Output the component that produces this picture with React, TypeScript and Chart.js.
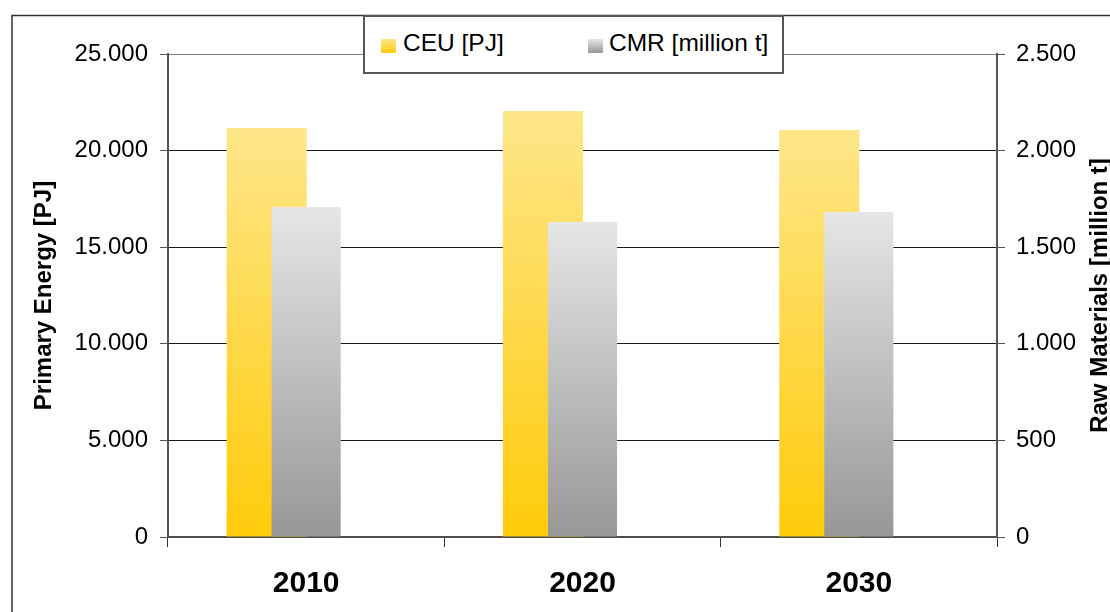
import React, { useEffect, useRef } from 'react';
import { Chart, registerables } from 'chart.js';

Chart.register(...registerables);

// ---- data ----
const CATEGORIES = ['2010', '2020', '2030'];
const SERIES_LABELS = ['CEU [PJ]', 'CMR [million t]'];
const CEU_VALUES = [21170, 22050, 21070];
const CMR_VALUES = [1708, 1630, 1682];
const LEFT_AXIS = { min: 0, max: 25000, step: 5000 };
const RIGHT_AXIS = { min: 0, max: 2500, step: 500 };
const LEFT_TITLE = 'Primary Energy [PJ]';
const RIGHT_TITLE = 'Raw Materials [million t]';

// ---- styles ----
const FONT = "'Liberation Sans', Arial, Helvetica, sans-serif";
const CEU_COLORS = ['#FEE68A', '#FFCB0A'];
const CMR_COLORS = ['#E6E6E6', '#979797'];
const CEU_SHIFT = 0.143; // fraction of a category width (Excel overlap)

const fmt = (v: number) => String(Math.round(v)).replace(/\B(?=(\d{3})+(?!\d))/g, '.');

function gradientFill(axisId: string, colors: string[]) {
  return (ctx: any) => {
    const chart = ctx.chart;
    if (!chart.chartArea || ctx.type !== 'data' || !ctx.parsed) return colors[1];
    const scale = chart.scales[axisId];
    const top = scale.getPixelForValue(ctx.parsed.y);
    const bottom = scale.getPixelForValue(0);
    if (!isFinite(top) || !isFinite(bottom) || top === bottom) return colors[1];
    const g = chart.ctx.createLinearGradient(0, top, 0, bottom);
    g.addColorStop(0, colors[0]);
    g.addColorStop(1, colors[1]);
    return g;
  };
}

const shiftPlugin = {
  id: 'shiftCEU',
  afterDatasetsUpdate(chart: any) {
    const xs = chart.scales.x;
    const catW = (xs.right - xs.left) / CATEGORIES.length;
    const meta = chart.getDatasetMeta(0);
    meta.data.forEach((el: any) => {
      el.x -= catW * CEU_SHIFT;
    });
  },
};

const framePlugin = {
  id: 'frame',
  beforeDraw(chart: any) {
    const c = chart.ctx;
    c.save();
    c.strokeStyle = '#333';
    c.lineWidth = 1.5;
    c.beginPath();
    c.moveTo(12, chart.height + 2);
    c.lineTo(12, 15.5);
    c.lineTo(chart.width + 2, 15.5);
    c.stroke();
    c.restore();
  },
};

const titlePlugin = {
  id: 'axisTitles',
  afterDraw(chart: any) {
    const c = chart.ctx;
    const area = chart.chartArea;
    const cy = (area.top + area.bottom) / 2;
    c.save();
    c.fillStyle = '#000';
    c.font = `bold 24px ${FONT}`;
    c.textAlign = 'center';
    c.textBaseline = 'alphabetic';
    c.save();
    c.translate(51, cy);
    c.rotate(-Math.PI / 2);
    c.fillText(LEFT_TITLE, 0, 0);
    c.restore();
    c.save();
    c.translate(chart.width - 3, cy);
    c.rotate(-Math.PI / 2);
    c.fillText(RIGHT_TITLE, 0, 0);
    c.restore();
    c.restore();
  },
};

export default function App() {
  const ref = useRef<HTMLCanvasElement | null>(null);

  useEffect(() => {
    if (!ref.current) return;
    const chart = new Chart(ref.current, {
      type: 'bar',
      data: {
        labels: CATEGORIES,
        datasets: [
          {
            label: SERIES_LABELS[0],
            data: CEU_VALUES,
            yAxisID: 'y',
            order: 1,
            grouped: false,
            barPercentage: 0.29,
            categoryPercentage: 1,
            borderWidth: 0,
            backgroundColor: gradientFill('y', CEU_COLORS),
          } as any,
          {
            label: SERIES_LABELS[1],
            data: CMR_VALUES,
            yAxisID: 'y1',
            order: 0,
            grouped: false,
            barPercentage: 0.25,
            categoryPercentage: 1,
            borderWidth: 0,
            backgroundColor: gradientFill('y1', CMR_COLORS),
          } as any,
        ],
      },
      options: {
        responsive: false,
        animation: false,
        devicePixelRatio: 1,
        layout: { padding: { top: 54, left: 0, right: 0, bottom: 0 } },
        plugins: { legend: { display: false }, tooltip: { enabled: false } },
        scales: {
          x: {
            position: 'bottom',
            z: 1,
            offset: true,
            afterFit: (s: any) => {
              s.height = 75;
            },
            grid: {
              offset: true,
              drawOnChartArea: false,
              tickLength: 10,
              color: '#333',
              lineWidth: 1,
            },
            border: { display: true, color: '#4f4f4f', width: 2 },
            ticks: {
              padding: 19,
              color: '#000',
              font: { family: FONT, size: 30, weight: 'bold' },
            },
          },
          y: {
            position: 'left',
            min: LEFT_AXIS.min,
            max: LEFT_AXIS.max,
            afterFit: (s: any) => {
              s.width = 168;
            },
            ticks: {
              stepSize: LEFT_AXIS.step,
              padding: 12,
              color: '#000',
              font: { family: FONT, size: 24 },
              callback: (v: any) => fmt(Number(v)),
            },
            grid: {
              color: (ctx: any) => {
                const v = ctx.tick ? ctx.tick.value : null;
                if (v === LEFT_AXIS.min) return 'rgba(0,0,0,0)';
                if (v === LEFT_AXIS.max) return '#808080';
                return '#1a1a1a';
              },
              lineWidth: 1,
              tickLength: 8,
              tickColor: '#555',
            },
            border: { display: true, color: '#555', width: 2 },
          },
          y1: {
            position: 'right',
            min: RIGHT_AXIS.min,
            max: RIGHT_AXIS.max,
            afterFit: (s: any) => {
              s.width = 113;
            },
            ticks: {
              stepSize: RIGHT_AXIS.step,
              padding: 11,
              color: '#000',
              font: { family: FONT, size: 24 },
              callback: (v: any) => fmt(Number(v)),
            },
            grid: {
              drawOnChartArea: false,
              tickLength: 8,
              tickColor: '#555',
              color: '#555',
            },
            border: { display: true, color: '#555', width: 2 },
          },
        },
      } as any,
      plugins: [shiftPlugin, framePlugin, titlePlugin],
    });
    return () => chart.destroy();
  }, []);

  const swatch = (left: number, colors: string[]) => (
    <div
      style={{
        position: 'absolute',
        left,
        top: 39,
        width: 15,
        height: 14,
        background: `linear-gradient(to bottom, ${colors[0]}, ${colors[1]})`,
      }}
    />
  );

  const legendText = (left: number, text: string) => (
    <span
      style={{
        position: 'absolute',
        left,
        top: 31,
        fontFamily: FONT,
        fontSize: 24.5,
        lineHeight: '24.5px',
        color: '#000',
        whiteSpace: 'nowrap',
      }}
    >
      {text}
    </span>
  );

  return (
    <div
      style={{
        position: 'fixed',
        left: 0,
        top: 0,
        width: 1110,
        height: 612,
        overflow: 'hidden',
        background: '#fff',
      }}
    >
      <canvas
        ref={ref}
        width={1110}
        height={612}
        style={{ position: 'absolute', left: 0, top: 0, width: 1110, height: 612 }}
      />
      <div
        style={{
          position: 'absolute',
          left: 363,
          top: 15,
          width: 421,
          height: 59,
          boxSizing: 'border-box',
          border: '2px solid #555',
          background: '#fff',
        }}
      />
      {swatch(381, CEU_COLORS)}
      {legendText(403, SERIES_LABELS[0])}
      {swatch(588, CMR_COLORS)}
      {legendText(609, SERIES_LABELS[1])}
    </div>
  );
}
